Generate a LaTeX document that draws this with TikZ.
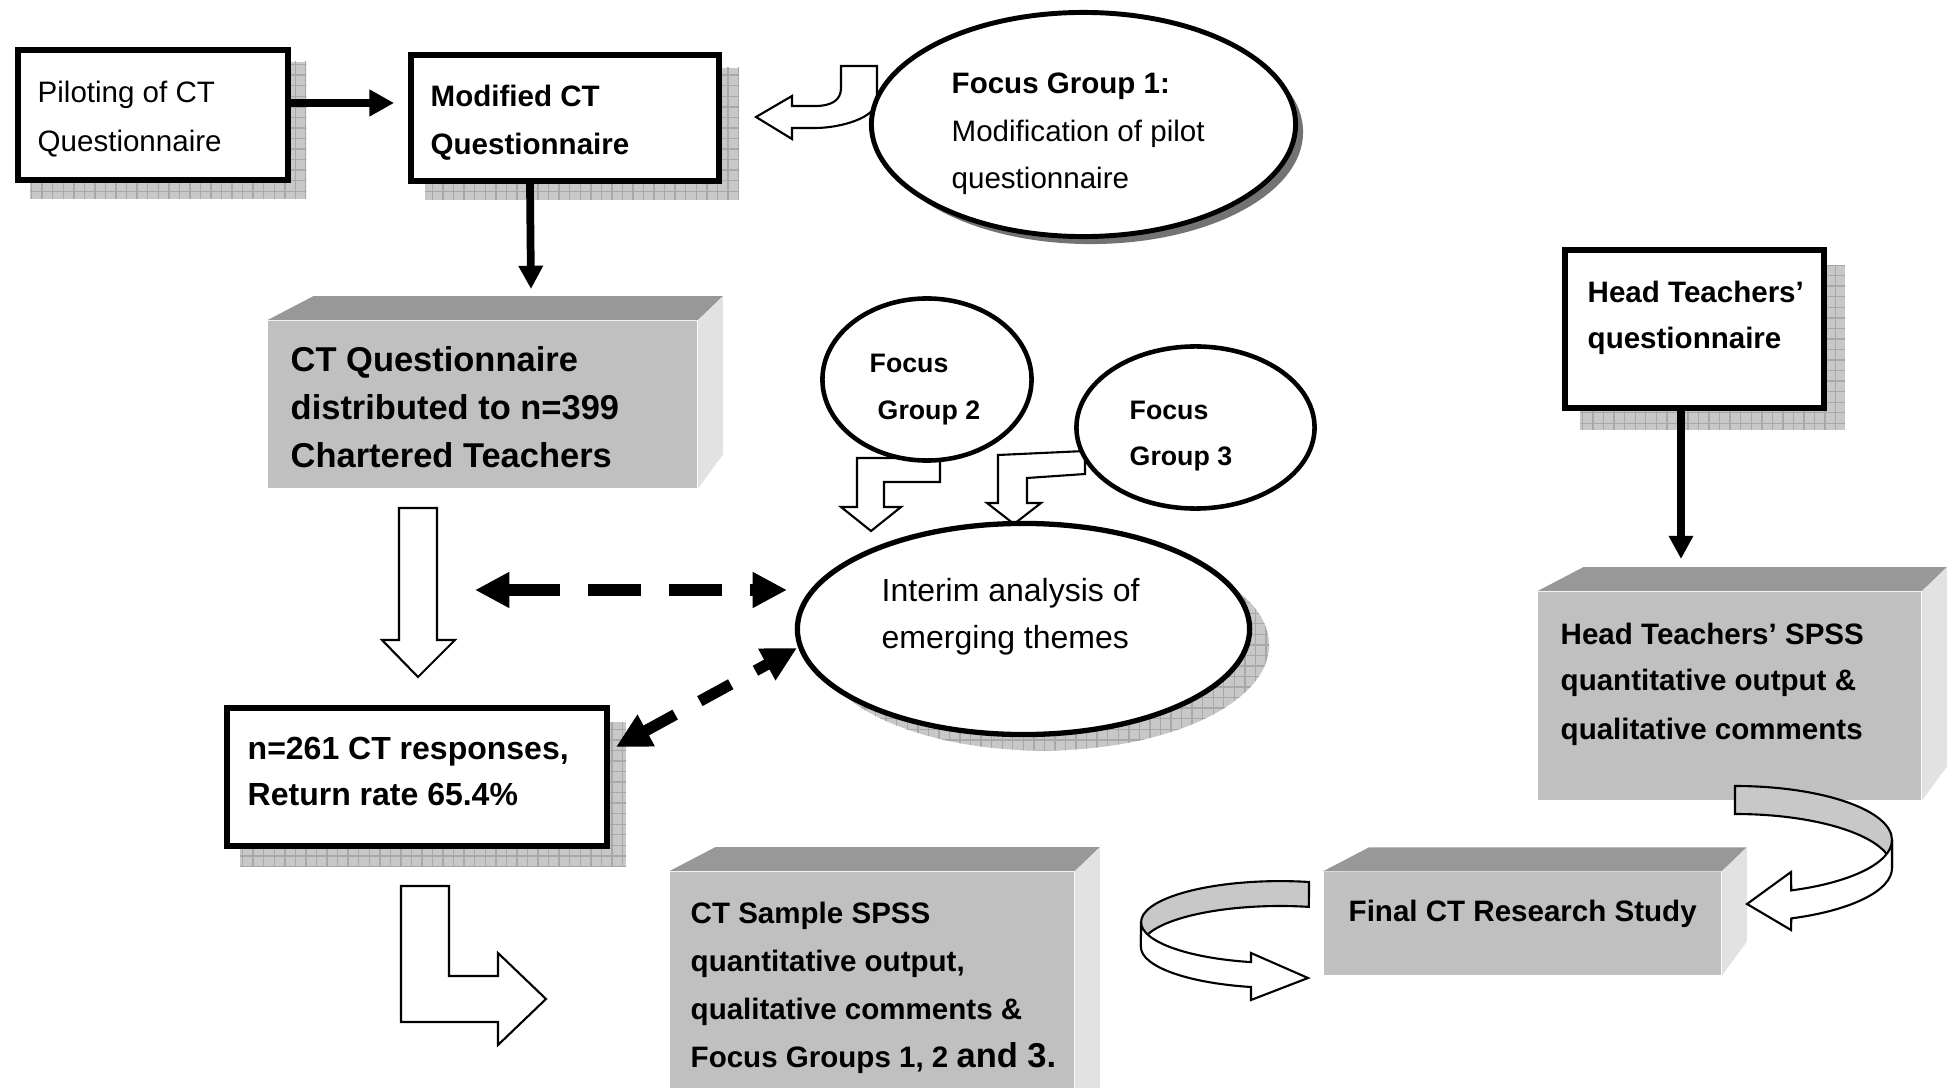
\documentclass[tikz,border=0pt]{standalone}
\usepackage{fontspec}
\setmainfont{Liberation Sans}
\usetikzlibrary{arrows.meta,shapes.geometric,patterns}
\definecolor{frontgray}{RGB}{192,192,192}
\definecolor{topgray}{RGB}{152,152,152}
\definecolor{sidegray}{RGB}{226,226,226}
\definecolor{shadowgray}{RGB}{200,200,200}
\definecolor{hatchgray}{RGB}{168,168,168}
\definecolor{darkshadow}{RGB}{115,115,115}
\definecolor{ribbongray}{RGB}{200,200,200}
\newcommand\cubefaces[1]{%
  \fill[topgray] (#1.north west) -- ++(46,-24) -- ([shift={(25,-24)}]#1.north east) -- (#1.north east) -- cycle;
  \fill[sidegray] (#1.north east) -- ([shift={(25,-24)}]#1.north east) -- ([shift={(25,-34)}]#1.south east) -- (#1.south east) -- cycle;}
\begin{document}
\begin{tikzpicture}[x=0.01cm,y=-0.01cm,
  box/.style={draw=black, line width=1.6pt, fill=white, rectangle, inner sep=0pt},
  hshadow/.style={fill=shadowgray, postaction={pattern=grid, pattern color=hatchgray}},
  front3d/.style={fill=frontgray, rectangle, inner sep=0pt, draw=none},
  oval/.style={ellipse, draw=black, line width=1.4pt, fill=white, inner sep=0pt},
  hollow/.style={draw=black, line width=0.6pt, fill=white, line join=miter},
  ribbonback/.style={draw=black, line width=0.6pt, fill=ribbongray},
  ribbonfront/.style={draw=black, line width=0.6pt, fill=white},
  solidarrow/.style={line width=2.1pt, -{Triangle[length=7pt,width=7.2pt]}},
  thinarrow/.style={line width=2.2pt, -{Triangle[length=6.6pt,width=6.6pt]}},
  dasharrow/.style={line width=3.2pt, {Triangle[length=9.8pt,width=9.6pt]}-{Triangle[length=9.8pt,width=9.6pt]}},
  t/.style={anchor=base west, inner sep=0pt, font=\fontsize{8.4pt}{10pt}\selectfont},
  tb/.style={t, font=\fontsize{8.4pt}{10pt}\selectfont\bfseries},
  tm/.style={t, font=\fontsize{9.1pt}{11pt}\selectfont},
  tmb/.style={t, font=\fontsize{9.1pt}{11pt}\selectfont\bfseries},
  tlb/.style={t, font=\fontsize{9.8pt}{12pt}\selectfont\bfseries},
  tsb/.style={t, font=\fontsize{7.6pt}{9pt}\selectfont\bfseries}]
\path[use as bounding box, fill=white] (0,0) rectangle (1953,1088);
\clip (0,0) rectangle (1953,1088);

% shadows
\fill[hshadow] (30,62) rectangle (306,199);
\fill[hshadow] (425,68) rectangle (739,200);
\fill[hshadow] (1580,266) rectangle (1845,430);
\fill[hshadow] (240,722) rectangle (626,866);
\node[ellipse, fill=darkshadow, minimum width=4.24cm, minimum height=2.24cm, inner sep=0pt] (fg1s) at (1091,132) {};
\node[ellipse, hshadow, minimum width=4.52cm, minimum height=2.11cm, inner sep=0pt] (ints) at (1043,645) {};

% hollow block arrows
\draw[hollow] (841,66) -- (877,66) -- (877,100) .. controls (877,118) and (840,128) .. (815,128) -- (792,128) -- (792,139) -- (756,117) -- (792,96) -- (792,106) -- (815,106) .. controls (832,106) and (841,100) .. (841,88) -- cycle;
\draw[hollow] (857,458) -- (940,458) -- (940,482) -- (884,482) -- (884,507) -- (901,507) -- (871,531) -- (841,507) -- (857,507) -- cycle;
\draw[hollow] (998,455) -- (1085,451) -- (1085,474) -- (1027,478) -- (1027,503) -- (1041,503) -- (1014,524) -- (987,503) -- (998,503) -- cycle;
\draw[hollow] (399,508) -- (437,508) -- (437,640) -- (455,640) -- (418,677) -- (382,640) -- (399,640) -- cycle;
\draw[hollow] (401,886) -- (449,886) -- (449,976) -- (498,976) -- (498,953) -- (546,999) -- (498,1045) -- (498,1022) -- (401,1022) -- cycle;

% boxes
\node[box, minimum width=2.70cm, minimum height=1.30cm] (pil) at (153,115) {};
\node[box, minimum width=3.08cm, minimum height=1.26cm] (mod) at (565,118) {};
\node[box, minimum width=2.59cm, minimum height=1.58cm] (ht) at (1694.5,329) {};
\node[box, minimum width=3.80cm, minimum height=1.38cm] (resp) at (417,777) {};

% ellipses
\node[oval, minimum width=4.24cm, minimum height=2.24cm] (fg1) at (1083.5,124.5) {};
\node[oval, line width=1.3pt, minimum width=2.09cm, minimum height=1.62cm] (fg2) at (927,379.5) {};
\node[oval, line width=1.3pt, minimum width=2.38cm, minimum height=1.62cm] (fg3) at (1195.5,427.5) {};
\node[oval, line width=1.5pt, minimum width=4.52cm, minimum height=2.11cm] (interim) at (1023.5,629) {};

% 3D boxes
\node[front3d, minimum width=4.29cm, minimum height=1.67cm] (ctq) at (482.5,404.5) {};
\cubefaces{ctq}
\node[front3d, minimum width=3.83cm, minimum height=2.08cm] (hts) at (1729.5,696) {};
\cubefaces{hts}
\node[front3d, minimum width=3.97cm, minimum height=1.03cm] (final) at (1522.5,923.5) {};
\cubefaces{final}
\node[front3d, minimum width=4.04cm, minimum height=2.53cm] (cts) at (872,998.5) {};
\cubefaces{cts}

% curved ribbon arrows
\draw[ribbonback] (1735,786) arc[start angle=-90, end angle=0, x radius=157, y radius=54] -- (1892,868) arc[start angle=0, end angle=-90, x radius=157, y radius=54] -- cycle;
\draw[ribbonfront] (1892,840) arc[start angle=0, end angle=69, x radius=157, y radius=54] -- (1791,872) -- (1747,904) -- (1791,930) -- (1791.3,918.4) arc[start angle=69, end angle=0, x radius=157, y radius=54] -- cycle;
\draw[ribbonback] (1309,882) arc[start angle=-78, end angle=-180, x radius=139, y radius=41] -- (1141,947) arc[start angle=-180, end angle=-78, x radius=139, y radius=41] -- cycle;
\draw[ribbonfront] (1141,922) arc[start angle=180, end angle=102, x radius=139, y radius=41] -- (1251,953) -- (1308,978) -- (1251,1000) -- (1251,987) arc[start angle=102, end angle=180, x radius=139, y radius=41] -- cycle;

% connectors
\coordinate (ctqin) at (531,289);
\coordinate (htsin) at (1681,559);
\coordinate (dhL) at (475,590);
\coordinate (dhR) at (787,590);
\coordinate (ddL) at (616,747);
\coordinate (ddU) at (797,648);
\draw[solidarrow, shorten >=0.14cm] ([yshift=0.12cm]pil.east) -- ([yshift=0.12cm]pil.east -| mod.west);
\draw[thinarrow] ([xshift=-0.35cm]mod.south) -- (ctqin);
\draw[thinarrow] ([xshift=-0.135cm]ht.south) -- (htsin);
\draw[dasharrow, dash pattern=on 15pt off 8pt] (dhL) -- (dhR);
\draw[dasharrow, dash pattern=on 10pt off 8pt] (ddL) -- (ddU);

% texts
\node[t] (p1) at (37,103) {Piloting of CT};
\node[t] (p2) at (37,152) {Questionnaire};
\node[tb] (m1) at (430,107) {Modified CT};
\node[tb] (m2) at (430,155) {Questionnaire};
\node[tb] (f1a) at (951,94) {Focus Group 1:};
\node[t] (f1b) at (951,142) {Modification of pilot};
\node[t] (f1c) at (951,189) {questionnaire};
\node[tlb] (q1) at (290,372) {CT Questionnaire};
\node[tlb] (q2) at (290,420) {distributed to n=399};
\node[tlb] (q3) at (290,468) {Chartered Teachers};
\node[tsb] (f2a) at (869,373) {Focus};
\node[tsb] (f2b) at (877,420) {Group 2};
\node[tsb] (f3a) at (1129,420) {Focus};
\node[tsb] (f3b) at (1129,466) {Group 3};
\node[tb] (h1) at (1587,303) {Head Teachers’};
\node[tb] (h2) at (1587,349) {questionnaire};
\node[tm] (i1) at (881,602) {Interim analysis of};
\node[tm] (i2) at (881,649) {emerging themes};
\node[tb] (s1) at (1560,644) {Head Teachers’ SPSS};
\node[tb] (s2) at (1560,691) {quantitative output \&};
\node[tb] (s3) at (1560,739) {qualitative comments};
\node[tmb] (r1) at (247,759) {n=261 CT responses,};
\node[tmb] (r2) at (247,805) {Return rate 65.4\%};
\node[tb] (fin) at (1348,922) {Final CT Research Study};
\node[tb] (c1) at (690,923) {CT Sample SPSS};
\node[tb] (c2) at (690,971) {quantitative output,};
\node[tb] (c3) at (690,1019) {qualitative comments \&};
\node[tb] (c4) at (690,1067) {Focus Groups 1, 2 {\fontsize{9.8pt}{12pt}\selectfont and 3.}};
\end{tikzpicture}
\end{document}
